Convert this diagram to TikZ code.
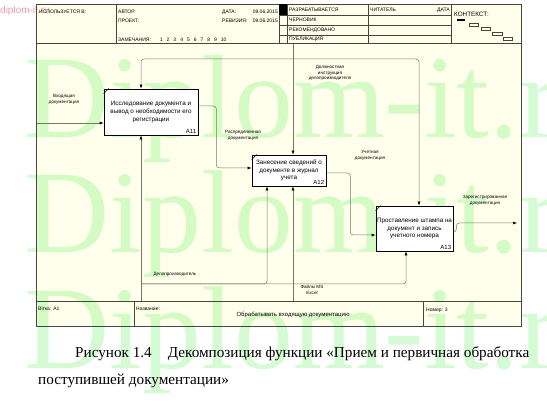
\documentclass[tikz,border=0pt]{standalone}
\usepackage{fontspec}
\setmainfont{Liberation Sans}
\newfontfamily\serifcap{Liberation Serif}
\usetikzlibrary{arrows.meta}
\definecolor{bgy}{RGB}{255,255,236}
\definecolor{frm}{RGB}{70,70,60}
\definecolor{cl}{RGB}{120,120,105}
\definecolor{wmg}{RGB}{0,235,0}
\definecolor{pinkwm}{RGB}{235,130,160}
\tikzset{
  fr/.style={draw=frm, line width=0.9pt},
  hl/.style={draw=frm, line width=0.5pt},
  htxt/.style={font=\fontsize{5}{6}\selectfont, inner sep=0pt},
  fbox/.style={draw=black, line width=0.7pt, fill=white, align=center,
    font=\fontsize{6.3}{7.6}\selectfont, inner sep=0pt},
  idl/.style={font=\fontsize{6}{7}\selectfont, inner sep=0pt, anchor=south east},
  conn/.style={draw=cl, line width=0.5pt, rounded corners=3pt},
  arr/.style={conn, -{Latex[length=4pt,width=3pt,color=black]}},
  lbl/.style={font=\fontsize{4.6}{5.8}\selectfont, align=center, inner sep=0pt},
  captxt/.style={font=\serifcap\fontsize{15.2}{17}\selectfont, anchor=west, inner sep=0pt},
  wmk/.style={font=\serifcap\fontsize{118}{118}\selectfont, text=wmg, opacity=0.17, inner sep=0pt, anchor=base west},
}
\begin{document}
\begin{tikzpicture}[x=1pt,y=-1pt]
\useasboundingbox (0,0) rectangle (547,401);
% background
\fill[white] (0,0) rectangle (547,401);
\fill[bgy] (36,4) rectangle (521,326);
% watermark
\node[wmk] (w1) at (24,138) {Diplom-it.ru};
\node[wmk] (w2) at (24,253) {Diplom-it.ru};
\node[wmk] (w3) at (24,368) {Diplom-it.ru};
\node[font=\fontsize{10}{11}\selectfont, text=pinkwm, opacity=0.8, anchor=west, inner sep=0pt] (w4) at (0,11) {diplom-it.ru};
% frame
\draw[fr] (36,4) rectangle (521,326);
\draw[fr] (36,43) -- (521,43);
\draw[fr] (36,301) -- (521,301);
\draw[hl] (116,4) -- (116,43);
\draw[hl] (279,4) -- (279,43);
\draw[hl] (287,4) -- (287,43);
\draw[hl] (368,4) -- (368,43);
\draw[hl] (451,4) -- (451,43);
\foreach \yy in {15,25,35} \draw[hl] (279,\yy) -- (451,\yy);
\fill[black] (279,4) rectangle (287,15);
\draw[hl] (134,301) -- (134,326);
\draw[hl] (423,301) -- (423,326);
% header text
\node[htxt,anchor=west] (h1) at (39,12) {ИСПОЛЬЗУЕТСЯ В:};
\node[htxt,anchor=west] (h2) at (118,12) {АВТОР:};
\node[htxt,anchor=west] (h3) at (118,21) {ПРОЕКТ:};
\node[htxt,anchor=west] (h4) at (118,40) {ЗАМЕЧАНИЯ:\hspace{9pt}1\hspace{4pt}2\hspace{4pt}3\hspace{4pt}4\hspace{4pt}5\hspace{4pt}6\hspace{4pt}7\hspace{4pt}8\hspace{4pt}9\hspace{4pt}10};
\node[htxt,anchor=west] (h5) at (222,12) {ДАТА:};
\node[htxt,anchor=east] (h6) at (278,12) {09.06.2015};
\node[htxt,anchor=west] (h7) at (222,21) {РЕВИЗИЯ:};
\node[htxt,anchor=east] (h8) at (278,21) {09.06.2015};
\node[htxt,anchor=west] (h9) at (289,10) {РАЗРАБАТЫВАЕТСЯ};
\node[htxt,anchor=west] (h10) at (289,20) {ЧЕРНОВИК};
\node[htxt,anchor=west] (h11) at (289,30) {РЕКОМЕНДОВАНО};
\node[htxt,anchor=west] (h12) at (289,39.5) {ПУБЛИКАЦИЯ};
\node[htxt,anchor=west] (h13) at (370,10) {ЧИТАТЕЛЬ};
\node[htxt,anchor=east] (h14) at (450,10) {ДАТА};
\node[htxt,anchor=west,font=\fontsize{6.3}{7}\selectfont] (h15) at (454,14) {КОНТЕКСТ:};
\fill[black] (457,19) rectangle (465,21);
\draw[hl] (469,23) rectangle (478,26);
\draw[hl] (481,27) rectangle (490,30);
\draw[hl] (492,32) rectangle (502,35.5);
\draw[hl] (503,37) rectangle (512,40.5);
% bottom text
\node[htxt,anchor=west] (b1) at (38,309) {Вітка: A1};
\node[htxt,anchor=west] (b2) at (136,309) {Название:};
\node[htxt,font=\fontsize{6}{7}\selectfont] (b3) at (293,315) {Обрабатывать входящую документацию};
\node[htxt,anchor=west] (b4) at (426,310) {Номер: 3};
% coordinates
\coordinate (inL) at (37,123);
\coordinate (ctop) at (293,44);
\coordinate (j1) at (293,59);
\coordinate (m1) at (141,301);
\coordinate (j2) at (141,284);
\coordinate (m2) at (293,301);
\coordinate (outR) at (517,223);
% boxes
\path (151,112) node[fbox, minimum width=94pt, minimum height=46pt] (A11) {Исследование документа и\\вывод о необходимости его\\регистрации};
\path (289,170.5) node[fbox, minimum width=74pt, minimum height=31pt] (A12) {Занесение сведений о\\документе в журнал\\учета};
\path (414.5,228.5) node[fbox, minimum width=77pt, minimum height=45pt] (A13) {Проставление штампа на\\документ и запись\\учетного номера};
% connectors
\draw[arr] (inL) -- (inL -| A11.west);
\draw[arr] (ctop) -- (ctop |- A12.north);
\draw[arr] (j1) -| ([xshift=-10pt]A11.north);
\draw[arr] (j1) -| ([xshift=4.5pt]A13.north);
\draw[arr] ([yshift=6pt]A11.east) -- ++(18,0) |- ([yshift=2.5pt]A12.west);
\draw[arr] ([yshift=-2.5pt]A12.east) -- ++(24,0) |- ([yshift=-6.5pt]A13.west);
\draw[arr] ([yshift=-3.5pt]A13.east) -- ++(3,0) |- (outR);
\draw[arr] (m1) -- (m1 |- A11.south);
\draw[arr] (j2) -| ([xshift=-22pt]A12.south);
\draw[arr] (j2) -| ([xshift=-8.5pt]A13.south);
\draw[arr] (m2) -- (m2 |- A12.south);
\foreach \b in {A11,A12,A13} {
  \draw[line width=0.5pt] ([yshift=-5pt]\b.north west) -- ([xshift=5pt]\b.north west);
}
\node[idl] (A11id) at ([shift={(-2pt,1.5pt)}]A11.south east) {A11};
\node[idl] (A12id) at ([shift={(-2pt,1.5pt)}]A12.south east) {A12};
\node[idl] (A13id) at ([shift={(-2pt,1.5pt)}]A13.south east) {A13};
% labels
\node[lbl] (l1) at (64,99) {Входящая\\документация};
\node[lbl] (l2) at (330,73) {Должностная\\инструкция\\делопроизводителя};
\node[lbl] (l3) at (243,135) {Распределенная\\документация};
\node[lbl] (l4) at (370,155) {Учетная\\документация};
\node[lbl] (l5) at (485,200) {Зарегистрированная\\документация};
\node[lbl] (l6) at (175,274) {Делопроизводитель};
\node[lbl] (l7) at (312,290) {Файлы MS\\Excel};
% caption
\node[captxt] (cap1) at (75,354) {Рисунок 1.4\hspace{16pt}Декомпозиция функции «Прием и первичная обработка};
\node[captxt] (cap2) at (38,381) {поступившей документации»};
\end{tikzpicture}
\end{document}
